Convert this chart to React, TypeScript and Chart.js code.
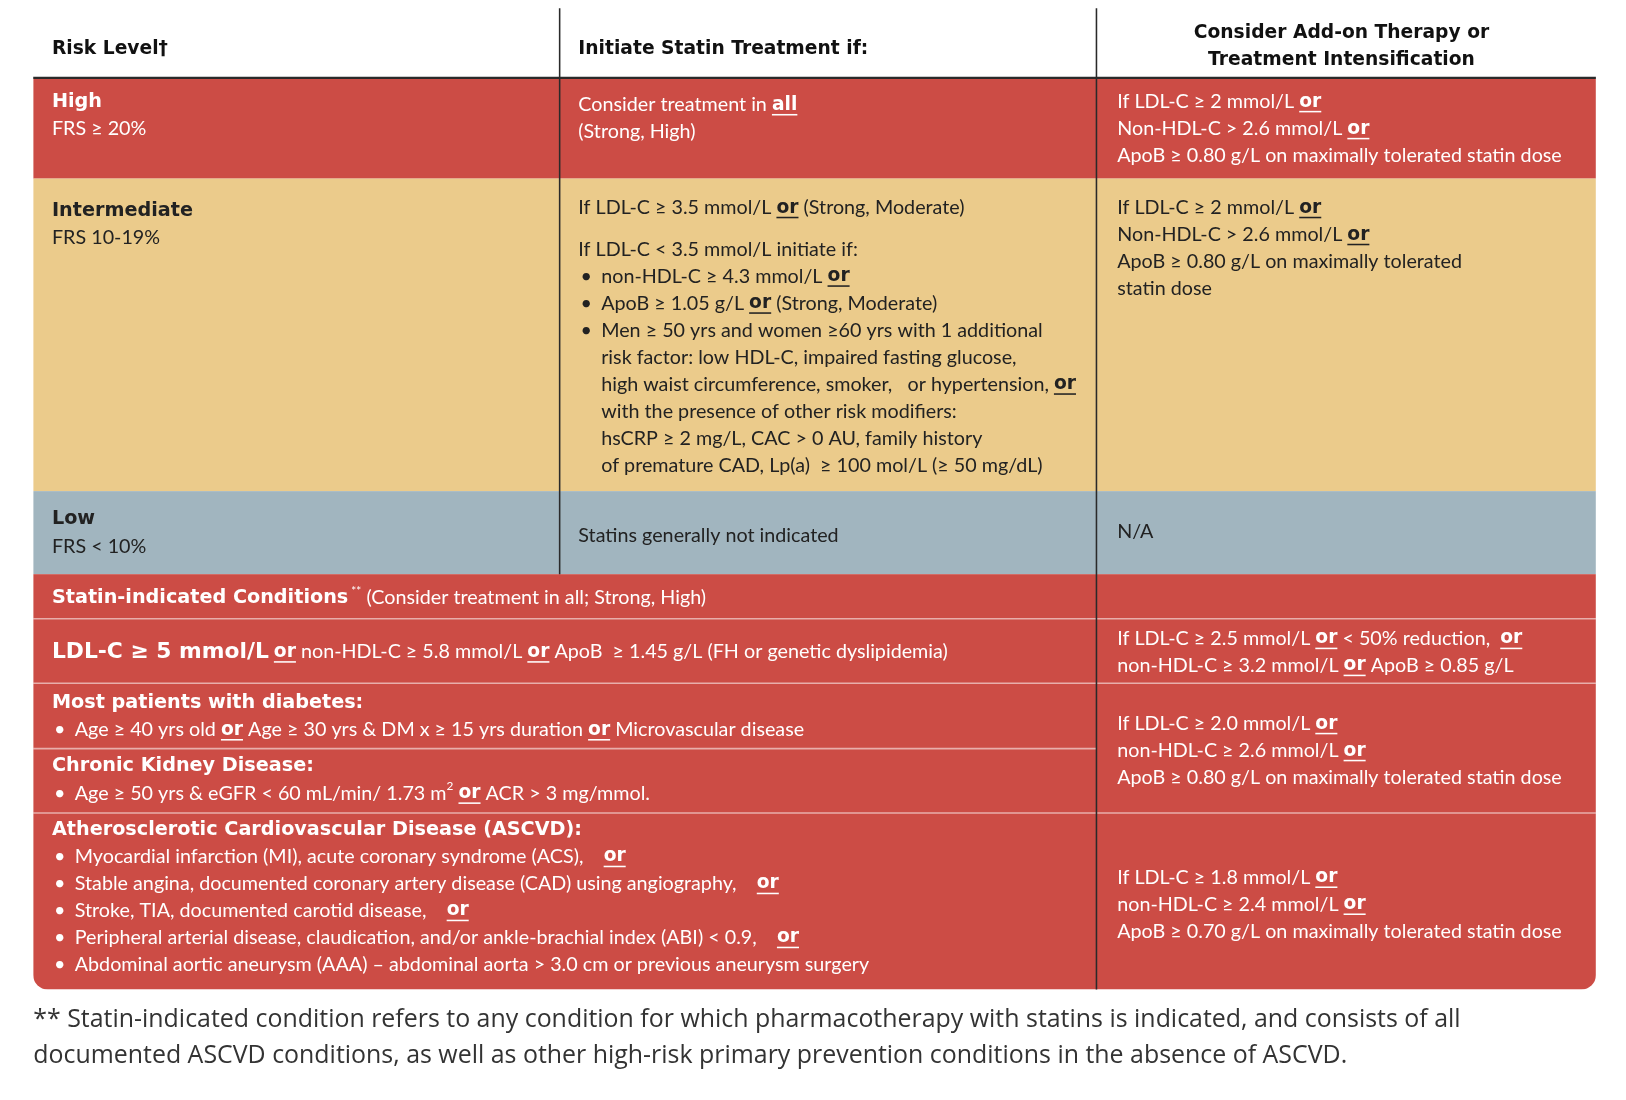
import Chart from "chart.js/auto";
import { useEffect, useRef } from "react";

const RED = "#cc4c45";
const YELLOW = "#ebcb8b";
const BLUE = "#a1b5bf";

const headerCol1 = ["Risk Level†"];
const headerCol2 = ["Initiate Statin Treatment if:"];
const headerCol3 = ["Consider Add-on Therapy or", "Treatment Intensification"];

const highRisk = ["^^High^^", "FRS ≥ 20%"];
const highStart = ["Consider treatment in __all__", "(Strong, High)"];
const highAdd = ["If LDL-C ≥ 2 mmol/L __or__", "Non-HDL-C > 2.6 mmol/L __or__", "ApoB ≥ 0.80 g/L on maximally tolerated statin dose"];

const midRisk = ["^^Intermediate^^", "FRS 10-19%"];
const midStart1 = ["If LDL-C ≥ 3.5 mmol/L __or__ (Strong, Moderate)"];
const midStart2 = [
  "If LDL-C < 3.5 mmol/L initiate if:",
  "• non-HDL-C ≥ 4.3 mmol/L __or__",
  "• ApoB ≥ 1.05 g/L __or__ (Strong, Moderate)",
  "• Men ≥ 50 yrs and women ≥60 yrs with 1 additional",
  "> risk factor: low HDL-C, impaired fasting glucose,",
  "> high waist circumference, smoker,   or hypertension, __or__",
  "> with the presence of other risk modifiers:",
  "> hsCRP ≥ 2 mg/L, CAC > 0 AU, family history",
  "> of premature CAD, Lp(a)  ≥ 100 mol/L (≥ 50 mg/dL)",
];
const midAdd = ["If LDL-C ≥ 2 mmol/L __or__", "Non-HDL-C > 2.6 mmol/L __or__", "ApoB ≥ 0.80 g/L on maximally tolerated", "statin dose"];

const lowRisk = ["^^Low^^", "FRS < 10%"];
const lowStart = ["Statins generally not indicated"];
const lowAdd = ["N/A"];

const statinTitle = ["^^Statin-indicated Conditions^^~~ **~~ (Consider treatment in all; Strong, High)"];
const ldlRow = ["^^LDL-C ≥ 5 mmol/L^^ __or__ non-HDL-C ≥ 5.8 mmol/L __or__ ApoB  ≥ 1.45 g/L (FH or genetic dyslipidemia)"];
const ldlAdd = ["If LDL-C ≥ 2.5 mmol/L __or__ < 50% reduction,  __or__", "non-HDL-C ≥ 3.2 mmol/L __or__ ApoB ≥ 0.85 g/L"];
const diabetes = ["^^Most patients with diabetes:^^", "• Age ≥ 40 yrs old __or__ Age ≥ 30 yrs & DM x ≥ 15 yrs duration __or__ Microvascular disease"];
const ckd = ["^^Chronic Kidney Disease:^^", "• Age ≥ 50 yrs & eGFR < 60 mL/min/ 1.73 m~~2~~ __or__ ACR > 3 mg/mmol."];
const dmAdd = ["If LDL-C ≥ 2.0 mmol/L __or__", "non-HDL-C ≥ 2.6 mmol/L __or__", "ApoB ≥ 0.80 g/L on maximally tolerated statin dose"];
const ascvd = [
  "^^Atherosclerotic Cardiovascular Disease (ASCVD):^^",
  "• Myocardial infarction (MI), acute coronary syndrome (ACS),    __or__",
  "• Stable angina, documented coronary artery disease (CAD) using angiography,    __or__",
  "• Stroke, TIA, documented carotid disease,    __or__",
  "• Peripheral arterial disease, claudication, and/or ankle-brachial index (ABI) < 0.9,    __or__",
  "• Abdominal aortic aneurysm (AAA) – abdominal aorta > 3.0 cm or previous aneurysm surgery",
];
const ascvdAdd = ["If LDL-C ≥ 1.8 mmol/L __or__", "non-HDL-C ≥ 2.4 mmol/L __or__", "ApoB ≥ 0.70 g/L on maximally tolerated statin dose"];

const footnote = [
  "** Statin-indicated condition refers to any condition for which pharmacotherapy with statins is indicated, and consists of all",
  "documented ASCVD conditions, as well as other high-risk primary prevention conditions in the absence of ASCVD.",
];

// layout (in reference units)
const K = 1626 / 1566;
const bands = [
  { y0: 76, y1: 172, c: RED },
  { y0: 172, y1: 473, c: YELLOW },
  { y0: 473, y1: 553, c: BLUE },
  { y0: 553, y1: 953, c: RED },
];
const blocks = [
  { t: headerCol1, x: 50, y: 47, hd: true },
  { t: headerCol2, x: 557, y: 47, hd: true },
  { t: headerCol3, x: 1292, y: 32, hd: true, center: true },
  { t: highRisk, x: 50, y: 98, w: true },
  { t: highStart, x: 557, y: 101, w: true },
  { t: highAdd, x: 1076, y: 98, w: true },
  { t: midRisk, x: 50, y: 203 },
  { t: midStart1, x: 557, y: 200 },
  { t: midStart2, x: 557, y: 240 },
  { t: midAdd, x: 1076, y: 200 },
  { t: lowRisk, x: 50, y: 500 },
  { t: lowStart, x: 557, y: 516 },
  { t: lowAdd, x: 1076, y: 512 },
  { t: statinTitle, x: 50, y: 576, w: true },
  { t: ldlRow, x: 50, y: 628, w: true, big: true },
  { t: ldlAdd, x: 1076, y: 615, w: true },
  { t: diabetes, x: 50, y: 677, w: true },
  { t: ckd, x: 50, y: 738, w: true },
  { t: dmAdd, x: 1076, y: 697, w: true },
  { t: ascvd, x: 50, y: 799, w: true },
  { t: ascvdAdd, x: 1076, y: 845, w: true },
];

const HEAVY = `"DejaVu Sans"`;

function drawRich(ctx: CanvasRenderingContext2D, line: string, x: number, y: number, size: number, hsize: number, color: string, hd: boolean) {
  const parts = line.split(/(\^\^|__|~~)/);
  let heavy = false, ul = false, sup = false, cx = x;
  ctx.fillStyle = color;
  ctx.strokeStyle = color;
  for (const p of parts) {
    if (p === "^^") { heavy = !heavy; continue; }
    if (p === "__") { ul = !ul; continue; }
    if (p === "~~") { sup = !sup; continue; }
    if (!p) continue;
    let dy = 0;
    if (hd) ctx.font = `bold 18px ${HEAVY}`;
    else if (heavy) ctx.font = `bold ${hsize}px ${HEAVY}`;
    else if (ul) ctx.font = `bold ${size - 1}px ${HEAVY}`;
    else if (sup) { ctx.font = `${size * 0.6}px Lato`; dy = -7; }
    else ctx.font = `${size}px Lato`;
    ctx.fillText(p, cx, y + dy);
    const w = ctx.measureText(p).width;
    if (ul) {
      ctx.lineWidth = 1.5;
      ctx.beginPath();
      ctx.moveTo(cx, y + size * 0.5);
      ctx.lineTo(cx + w, y + size * 0.5);
      ctx.stroke();
    }
    cx += w;
  }
}

const tablePlugin = {
  id: "table",
  beforeDraw(chart: any) {
    const { ctx } = chart;
    const X = (v: number) => chart.scales.x.getPixelForValue(v);
    const Y = (v: number) => chart.scales.y.getPixelForValue(v);
    ctx.save();
    ctx.fillStyle = "#fff";
    ctx.fillRect(0, 0, chart.width, chart.height);
    ctx.scale(K, K);
    ctx.save();
    ctx.beginPath();
    ctx.roundRect(X(32), Y(76), X(1537) - X(32), Y(953) - Y(76), [0, 0, 14, 14]);
    ctx.clip();
    bands.forEach((b) => {
      ctx.fillStyle = b.c;
      ctx.fillRect(X(32), Y(b.y0), X(1537) - X(32), Y(b.y1) - Y(b.y0));
    });
    ctx.restore();
    ctx.strokeStyle = "rgba(255,255,255,0.55)";
    ctx.lineWidth = 1.5;
    [[32, 1537, 596], [32, 1537, 658], [32, 1056, 721], [32, 1537, 783]].forEach(([a, b, y]) => {
      ctx.beginPath(); ctx.moveTo(X(a), Y(y)); ctx.lineTo(X(b), Y(y)); ctx.stroke();
    });
    ctx.strokeStyle = "#2a2a2a";
    ctx.lineWidth = 2;
    ctx.beginPath(); ctx.moveTo(X(32), Y(75)); ctx.lineTo(X(1537), Y(75)); ctx.stroke();
    ctx.lineWidth = 1.5;
    ctx.beginPath(); ctx.moveTo(X(539), Y(8)); ctx.lineTo(X(539), Y(553)); ctx.stroke();
    ctx.beginPath(); ctx.moveTo(X(1056), Y(8)); ctx.lineTo(X(1056), Y(953)); ctx.stroke();
    ctx.textBaseline = "middle";
    blocks.forEach((b: any) => {
      const color = b.hd ? "#111" : b.w ? "#fff" : "#222";
      b.t.forEach((line: string, i: number) => {
        const y = Y(b.y + i * 26);
        let x = X(b.x);
        let s = line;
        if (s.startsWith("• ")) {
          drawRich(ctx, "•", x + 2, y, 19, 20, color, false);
          x += 22; s = s.slice(2);
        } else if (s.startsWith("> ")) { x += 22; s = s.slice(2); }
        if (b.center) {
          ctx.font = `bold 18px ${HEAVY}`;
          x -= ctx.measureText(s).width / 2;
        }
        const hs = b.big ? 21 : 18.5;
        drawRich(ctx, s, x, y, 19, hs, color, !!b.hd);
      });
    });
    ctx.fillStyle = "#333";
    ctx.font = `24px "Open Sans"`;
    footnote.forEach((l, i) => ctx.fillText(l, X(32), Y(982 + i * 35)));
    ctx.restore();
  },
};

export default function App() {
  const ref = useRef<HTMLCanvasElement | null>(null);
  useEffect(() => {
    document.body.style.margin = "0";
    document.body.style.overflow = "hidden";
    if (!ref.current) return;
    const chart = new Chart(ref.current, {
      type: "scatter",
      data: { datasets: [{ data: [] }] },
      options: {
        animation: false,
        responsive: false,
        layout: { padding: 0 },
        plugins: { legend: { display: false }, tooltip: { enabled: false } },
        scales: {
          x: { type: "linear", min: 0, max: 1626, display: false },
          y: { type: "linear", min: 0, max: 1100, reverse: true, display: false },
        },
      },
      plugins: [tablePlugin],
    });
    return () => chart.destroy();
  }, []);
  return <canvas ref={ref} width={1626} height={1100} style={{ display: "block" }}></canvas>;
}
